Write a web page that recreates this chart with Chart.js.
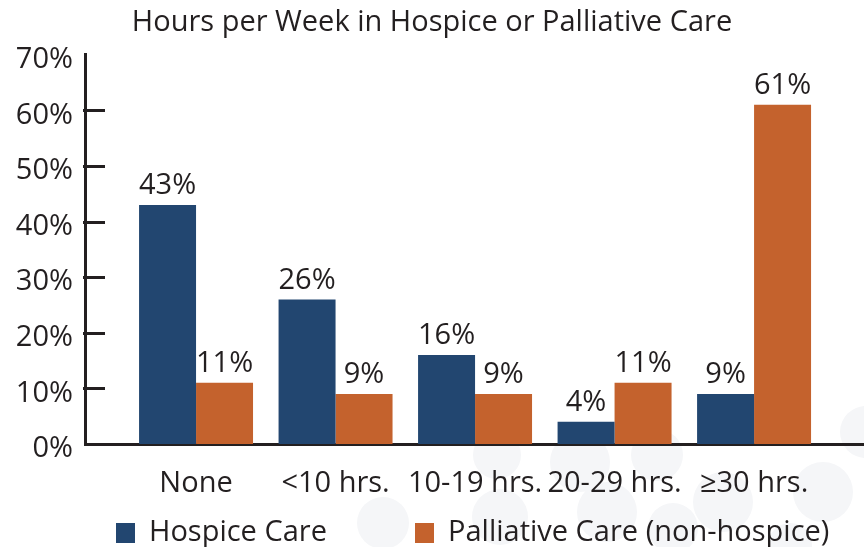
<!DOCTYPE html>
<html>
<head>
<meta charset="utf-8">
<script src="https://cdn.jsdelivr.net/npm/chart.js@4/dist/chart.umd.min.js"></script>
<style>
  html, body { margin: 0; padding: 0; background: #fff; }
  #wrap { width: 864px; height: 547px; position: relative; }
</style>
</head>
<body>
<div id="wrap"><canvas id="chart"></canvas></div>
<script>
const categories = ['None', '<10 hrs.', '10-19 hrs.', '20-29 hrs.', '≥30 hrs.']
const hospiceCare = [43, 26, 16, 4, 9]
const palliativeCare = [11, 9, 9, 11, 61]
const yTicks = [0, 10, 20, 30, 40, 50, 60, 70]

const FONT = '"Open Sans", sans-serif'
const SIZE = 29
const INK = '#231f20'
const NAVY = '#224670'
const ORANGE = '#c4622d'

const toPoints = values => values.map((y, i) => ({ x: i, y }))

// faint decorative bubbles behind the lower right part of the slide
const bubbles = {
  id: 'bubbles',
  beforeDraw(chart) {
    const { ctx } = chart
    const spots = [
      [383, 523, 26], [500, 517, 28], [497, 455, 24], [580, 462, 30],
      [607, 512, 30], [657, 455, 26], [673, 528, 25], [723, 502, 30],
      [823, 492, 30], [866, 432, 26], [790, 545, 22]
    ]
    ctx.save()
    ctx.fillStyle = '#f5f6f8'
    spots.forEach(([x, y, r]) => {
      ctx.beginPath()
      ctx.arc(x, y, r, 0, Math.PI * 2)
      ctx.fill()
    })
    ctx.restore()
  }
}

// short tick marks pointing into the plot from the y axis
const innerTicks = {
  id: 'innerTicks',
  afterDraw(chart) {
    const { ctx, chartArea, scales } = chart
    ctx.save()
    ctx.strokeStyle = INK
    ctx.lineWidth = 3
    yTicks.slice(1, -1).forEach(v => {
      const y = Math.round(scales.y.getPixelForValue(v)) + 0.5
      ctx.beginPath()
      ctx.moveTo(chartArea.left - 2, y)
      ctx.lineTo(chartArea.left + 20, y)
      ctx.stroke()
    })
    ctx.restore()
  }
}

const valueLabels = {
  id: 'valueLabels',
  afterDatasetsDraw(chart) {
    const { ctx } = chart
    ctx.save()
    ctx.font = `${SIZE}px ${FONT}`
    ctx.fillStyle = INK
    ctx.textAlign = 'center'
    ctx.textBaseline = 'middle'
    chart.data.datasets.forEach((ds, di) => {
      chart.getDatasetMeta(di).data.forEach((bar, i) => {
        ctx.fillText(ds.data[i].y + '%', bar.x, bar.y - 19)
      })
    })
    ctx.restore()
  }
}

const bottomLegend = {
  id: 'bottomLegend',
  afterDraw(chart) {
    const { ctx } = chart
    const starts = [116, 415]
    const y = 533
    ctx.save()
    ctx.font = `${SIZE}px ${FONT}`
    ctx.textBaseline = 'middle'
    ctx.textAlign = 'left'
    chart.data.datasets.forEach((ds, i) => {
      ctx.fillStyle = ds.backgroundColor
      ctx.fillRect(starts[i], y - 10, 19, 20)
      ctx.fillStyle = INK
      ctx.fillText(ds.label, starts[i] + 33, y)
    })
    ctx.restore()
  }
}

new Chart(document.getElementById('chart'), {
  type: 'bar',
  data: {
    datasets: [
      {
        label: 'Hospice Care',
        data: toPoints(hospiceCare),
        backgroundColor: NAVY
      },
      {
        label: 'Palliative Care (non-hospice)',
        data: toPoints(palliativeCare),
        backgroundColor: ORANGE
      }
    ]
  },
  options: {
    animation: false,
    responsive: true,
    maintainAspectRatio: false,
    categoryPercentage: 0.817,
    barPercentage: 1,
    layout: {
      padding: { top: 0, right: 0, bottom: 52, left: 0 }
    },
    scales: {
      x: {
        type: 'linear',
        offset: false,
        min: -0.796,
        max: 4.788,
        afterBuildTicks: scale => {
          scale.ticks = categories.map((c, i) => ({ value: i }))
        },
        afterFit: scale => {
          scale.height = 51
        },
        grid: { display: false },
        border: { display: true, color: INK, width: 3 },
        ticks: {
          callback: value => categories[value],
          color: INK,
          font: { family: FONT, size: SIZE },
          padding: 14,
          maxRotation: 0,
          autoSkip: false
        }
      },
      y: {
        min: 0,
        max: 70,
        afterBuildTicks: scale => {
          scale.ticks = yTicks.map(value => ({ value }))
        },
        afterFit: scale => {
          scale.width = 85
        },
        grid: { display: false },
        border: { display: true, color: INK, width: 3 },
        ticks: {
          callback: value => value + '%',
          color: INK,
          font: { family: FONT, size: SIZE },
          padding: 4,
          labelOffset: 5
        }
      }
    },
    plugins: {
      legend: { display: false },
      tooltip: { enabled: false },
      title: {
        display: true,
        text: 'Hours per Week in Hospice or Palliative Care',
        color: INK,
        font: { family: FONT, size: SIZE, weight: 'normal' },
        padding: { top: 5, bottom: 15 }
      }
    }
  },
  plugins: [bubbles, innerTicks, valueLabels, bottomLegend]
})
</script>
</body>
</html>
